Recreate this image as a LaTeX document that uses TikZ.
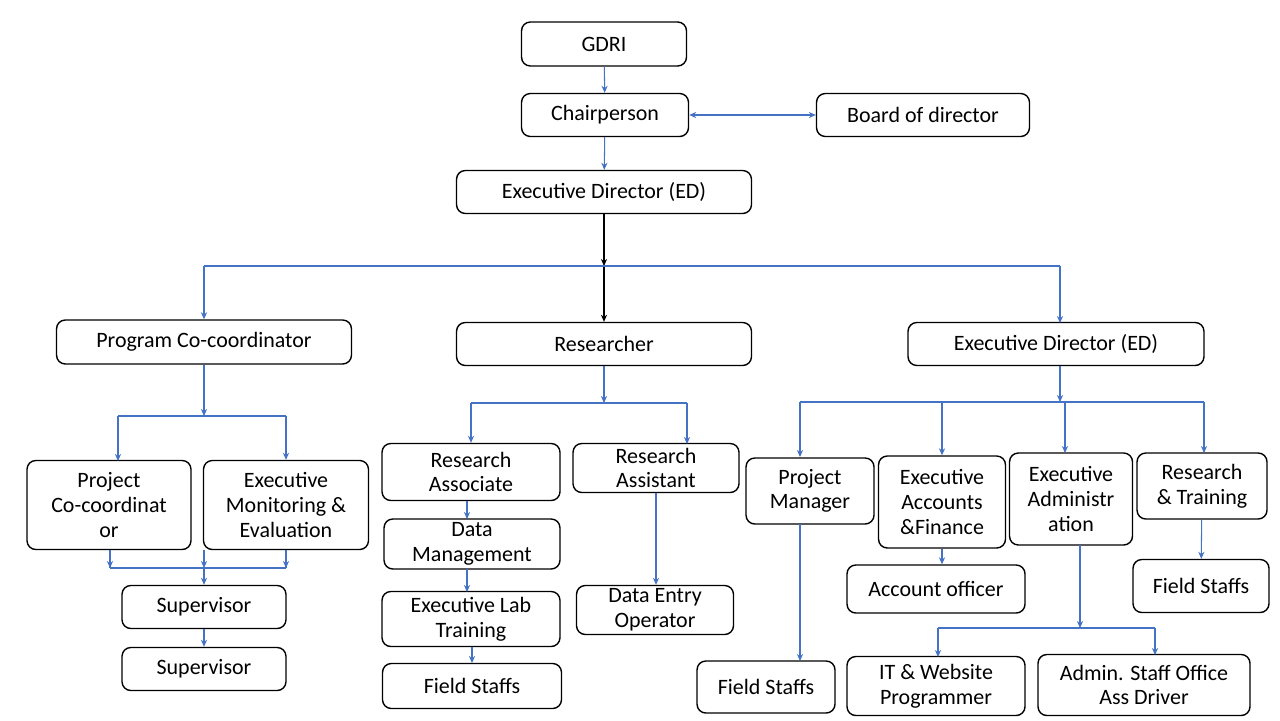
\documentclass[tikz,border=0pt]{standalone}
\usepackage{fontspec}
\setmainfont{Carlito}
\usetikzlibrary{arrows.meta}
\usetikzlibrary{calc}
\usetikzlibrary{positioning}

\definecolor{linkblue}{RGB}{68,114,196}

\tikzset{
  box/.style={draw,thick,rounded corners=5pt,align=center,inner sep=1pt,font=\fontsize{12.5}{14}\selectfont},
  link/.style={draw=linkblue,semithick,-{Stealth[length=4pt,width=3.5pt]}},
  bar/.style={draw=linkblue,semithick}
}

\begin{document}
\begin{tikzpicture}[x=0.02cm,y=-0.02cm]
  \useasboundingbox (0,0) rectangle (1280,720);

  \node [box,minimum width=3.3cm,minimum height=0.88cm] (gdri) at (604,44) {GDRI};
  \node [box,minimum width=3.34cm,minimum height=0.86cm] (chair) at (605,115) {Chairperson};
  \node [box,minimum width=4.26cm,minimum height=0.86cm] (board) at (923,115) {Board of director};
  \node [box,minimum width=5.9cm,minimum height=0.86cm] (ed) at (604,192) {Executive Director (ED)};

  \node [box,minimum width=5.9cm,minimum height=0.88cm] (prog) at (204,342) {Program Co-coordinator};
  \node [box,minimum width=5.9cm,minimum height=0.86cm] (res) at (604,344) {Researcher};
  \node [box,minimum width=5.92cm,minimum height=0.86cm] (edr) at (1056,344) {Executive Director (ED)};

  % program branch
  \node [box,minimum width=3.28cm,minimum height=1.78cm] (pcc) at (109,505) {Project\\Co-coordinat\\or};
  \node [box,minimum width=3.3cm,minimum height=1.78cm] (eme) at (286,505) {Executive\\Monitoring \&\\Evaluation};
  \node [box,minimum width=3.28cm,minimum height=0.86cm] (sup_a) at (204,607) {Supervisor};
  \node [box,minimum width=3.28cm,minimum height=0.86cm] (sup_b) at (204,669) {Supervisor};

  % researcher branch
  \node [box,minimum width=3.56cm,minimum height=1.14cm] (rasso) at (471,472) {Research\\Associate};
  \node [box,minimum width=3.52cm,minimum height=1.0cm] (dm) at (472,544) {Data\\Management};
  \node [box,minimum width=3.56cm,minimum height=1.1cm] (elt) at (471,619) {Executive Lab\\Training};
  \node [box,minimum width=3.58cm,minimum height=0.9cm] (fs_r) at (472,686) {Field Staffs};
  \node [box,minimum width=3.32cm,minimum height=0.98cm] (rassi) at (656,468) {Research\\Assistant};
  \node [box,minimum width=3.14cm,minimum height=0.98cm] (deo) at (655,610) {Data Entry\\Operator};

  % executive branch
  \node [box,minimum width=2.56cm,minimum height=1.32cm] (pm) at (810,491) {Project\\Manager};
  \node [box,minimum width=2.54cm,minimum height=1.84cm] (eaf) at (942,502) {Executive\\Accounts\\\&Finance};
  \node [box,minimum width=2.46cm,minimum height=1.84cm] (ea) at (1071,499) {Executive\\Administr\\ation};
  \node [box,minimum width=2.6cm,minimum height=1.32cm] (rt) at (1202,486) {Research\\\& Training};
  \node [box,minimum width=3.56cm,minimum height=0.96cm] (ao) at (936,589) {Account officer};
  \node [box,minimum width=2.72cm,minimum height=1.06cm] (fs_t) at (1201,586) {Field Staffs};
  \node [box,minimum width=2.76cm,minimum height=1.04cm] (fs_p) at (766,687) {Field Staffs};
  \node [box,minimum width=3.56cm,minimum height=1.18cm] (it) at (936,686) {IT \& Website\\Programmer};
  \node [box,minimum width=4.24cm,minimum height=1.22cm] (adm) at (1144,685) {Admin. Staff Office\\Ass Driver};

  % junction points
  \coordinate (j_top) at (604,266);
  \coordinate (j_prog) at (204,416);
  \coordinate (j_sup) at (204,568);
  \coordinate (j_res) at (604,403);
  \coordinate (j_edr) at (1060,402);
  \coordinate (j_ea) at (1080,628);

  \path [link] (gdri) edge (chair) (chair) edge (ed);
  \path [draw=linkblue,semithick,{Stealth[length=4pt,width=3.5pt]}-{Stealth[length=4pt,width=3.5pt]}] (chair) -- (board);
  \draw [black,semithick,-{Stealth[length=4pt,width=3.5pt]}] (ed) -- (j_top);
  \draw [black,semithick,-{Stealth[length=4pt,width=3.5pt]}] (j_top) -- (res);
  \draw [bar] (204,266) -- (1060,266);
  \draw [link] (204,266) -- (prog.north);
  \draw [link] (1060,266) -- (1060,323);

  % program branch
  \draw [link] (prog) -- (j_prog);
  \draw [bar] (118,416) -- (286,416);
  \draw [link] (118,416) -- (118,461);
  \draw [link] (286,416) -- (eme.north);
  \draw [bar] (110,550) -- (110,568) (286,550) -- (286,568);
  \draw [bar] (110,568) -- (286,568);
  \draw [link] (110,550) -- (110,568);
  \draw [link] (286,550) -- (286,568);
  \draw [link] (j_sup) -- (sup_a);
  \draw [link] (204,550) -- (204,568);
  \draw [link] (sup_a) -- (sup_b);

  % researcher branch
  \draw [link] (res) -- (j_res);
  \draw [bar] (471,403) -- (687,403);
  \draw [link] (471,403) -- (rasso.north);
  \draw [link] (687,403) -- (687,444);
  \draw [link] (467,501) -- (467,519);
  \draw [link] (467,569) -- (467,592);
  \draw [link] (472,647) -- (472,663);
  \draw [link] (656,493) -- (deo.north-|656,0);

  % executive branch
  \draw [link] (edr.south-|j_edr) -- (j_edr);
  \draw [bar] (800,402) -- (1204,402);
  \draw [link] (800,402) -- (800,457);
  \draw [link] (942,402) -- (eaf.north);
  \draw [link] (1065,402) -- (1065,453);
  \draw [link] (1204,402) -- (1204,453);
  \draw [link] (800,524) -- (800,661);
  \draw [link] (eaf.south) -- (ao.north-|eaf.south);
  \draw [link] (1080,545) -- (j_ea);
  \draw [bar] (938,628) -- (1155,628);
  \draw [link] (938,628) -- (938,657);
  \draw [link] (1155,628) -- (1155,655);
  \draw [link] (rt) -- (fs_t);
\end{tikzpicture}
\end{document}
